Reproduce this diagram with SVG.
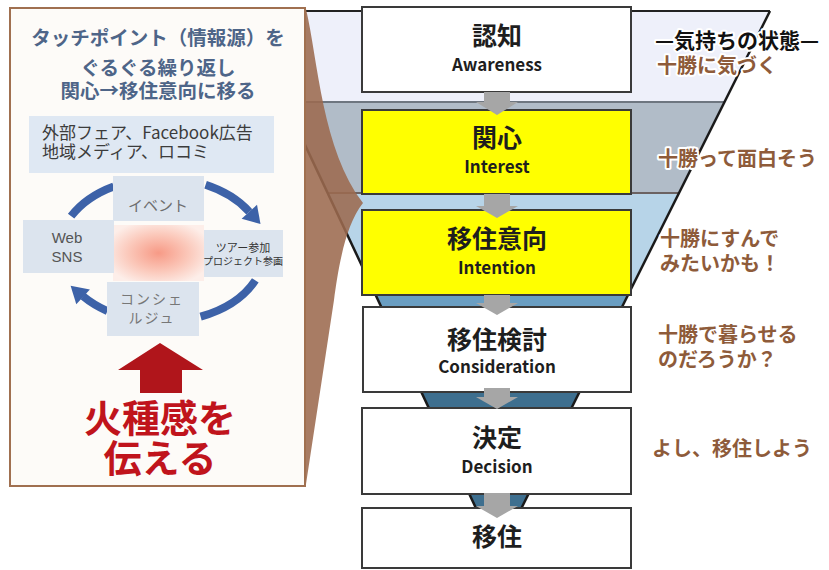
<svg xmlns="http://www.w3.org/2000/svg" width="829" height="570" viewBox="0 0 829 570">
<defs>
<style>
.jp{font-family:"Noto Sans CJK JP","Noto Sans",sans-serif}
.box{stroke:#3a3a3a;stroke-width:2}
.wbox{fill:#ffffff}
.ybox{fill:#ffff00}
.t1{font-size:25px;font-weight:bold;fill:#1e1e1e;text-anchor:middle}
.t2{font-size:17px;font-weight:bold;fill:#1e1e1e;text-anchor:middle}
.feel{font-size:20px;font-weight:bold;fill:#8e5b3a;stroke:#ffffff;stroke-width:4;stroke-linejoin:round;paint-order:stroke}
.garrow{fill:#a6a6a6}
.cyc{fill:none;stroke:#3d62a8;stroke-width:8}
.cychead{fill:#3d62a8}
.tp{fill:#dce4ee}
.title{font-size:19.5px;font-weight:bold;fill:#4e6588;text-anchor:middle}
</style>
<radialGradient id="blob" cx="0.5" cy="0.5" r="0.6">
<stop offset="0" stop-color="#f79a86"/>
<stop offset="0.55" stop-color="#fbc8ba"/>
<stop offset="1" stop-color="#fdeee9"/>
</radialGradient>
</defs>

<!-- funnel background -->
<g id="funnel">
<polygon points="242,11 770,11 724.5,102 284.8,102" fill="#eef0fa"/>
<polygon points="284.8,102 724.5,102 679,193 327.5,193" fill="#b1bcc8"/>
<polygon points="327.5,193 679,193 629,293 374.5,293" fill="#b7d4e8"/>
<polygon points="374.5,293 629,293 600.5,350 401.3,350" fill="#6a9ec2"/>
<polygon points="401.3,350 600.5,350 498,555" fill="#3e6f8f"/>
<line x1="242" y1="11" x2="770" y2="11" stroke="#222" stroke-width="2"/>
<line x1="284.8" y1="102" x2="724.5" y2="102" stroke="#6e7680" stroke-width="2"/>
<line x1="327.5" y1="193" x2="679" y2="193" stroke="#6b6262" stroke-width="2"/>
<line x1="242" y1="11" x2="498" y2="555" stroke="#1a1a1a" stroke-width="2.5"/>
<line x1="770" y1="11" x2="498" y2="555" stroke="#1a1a1a" stroke-width="2.5"/>
</g>

<!-- brown callout -->
<path id="callout" d="M306,9 C318,60 322,150 363,203 C345,225 338,270 334,300 L306,484 Z" fill="#9c6a4e" fill-opacity="0.88"/>

<!-- left panel -->
<g id="touchpoints" class="jp">
<rect x="10" y="8" width="295" height="478" fill="#fdfbf8" stroke="#a07050" stroke-width="2"/>
<text class="title" x="158" y="45">タッチポイント（情報源）を</text>
<text class="title" x="158" y="75">ぐるぐる繰り返し</text>
<text class="title" x="158" y="98">関心→移住意向に移る</text>
<rect x="29" y="116" width="245" height="57" fill="#dfe8f3"/>
<text x="42" y="139" font-size="17" fill="#3c3c3c">外部フェア、Facebook広告</text>
<text x="42" y="158" font-size="17" fill="#3c3c3c">地域メディア、ロコミ</text>

<g id="cycle">
<path class="cyc" d="M71.1,216.2 A103,72 0 0,1 113.7,186.4"/>
<path class="cyc" d="M205.6,184.8 A103,72 0 0,1 249.3,211.8"/>
<polygon class="cychead" points="260.5,224 241.6,218.8 257,204.8"/>
<path class="cyc" d="M255.3,280.4 A103,72 0 0,1 200.6,316.7"/>
<path class="cyc" d="M107.4,311.1 A103,72 0 0,1 83.1,296.3"/>
<polygon class="cychead" points="70.6,285.7 89.9,289.4 76.3,304.2"/>
<rect x="113" y="225" width="91" height="56" fill="url(#blob)"/>
<rect class="tp" x="113" y="176" width="91" height="45"/>
<text x="158" y="211" font-size="15" fill="#6e6e6e" text-anchor="middle">イベント</text>
<rect class="tp" x="23" y="220" width="91" height="53"/>
<text x="67" y="243" font-size="15" fill="#555" text-anchor="middle" font-family="'Liberation Sans',sans-serif">Web</text>
<text x="67" y="262" font-size="15" fill="#555" text-anchor="middle" font-family="'Liberation Sans',sans-serif">SNS</text>
<rect class="tp" x="204" y="230" width="79" height="47"/>
<text x="243" y="252" font-size="11" fill="#333" text-anchor="middle">ツアー参加</text>
<text x="243" y="265" font-size="10" fill="#333" text-anchor="middle">プロジェクト参画</text>
<rect class="tp" x="107" y="282" width="92" height="54"/>
<text x="152" y="304" font-size="14" fill="#777" text-anchor="middle" letter-spacing="2">コンシェ</text>
<text x="152" y="323" font-size="14" fill="#777" text-anchor="middle" letter-spacing="2">ルジュ</text>
</g>

<polygon points="160,343 203,370 182,370 182,393 140,393 140,370 118,370" fill="#b0151b"/>
<text x="160" y="432" font-size="38" font-weight="bold" fill="#c0141c" text-anchor="middle">火種感を</text>
<text x="160" y="472" font-size="38" font-weight="bold" fill="#c0141c" text-anchor="middle">伝える</text>
</g>

<!-- stage nodes -->
<g id="awareness" class="jp">
<rect class="box wbox" x="362" y="7" width="269" height="85"/>
<text class="t1" x="497" y="45">認知</text>
<text class="t2" x="497" y="71">Awareness</text>
</g>
<g id="interest" class="jp">
<rect class="box ybox" x="362" y="110" width="269" height="84"/>
<text class="t1" x="497" y="147">関心</text>
<text class="t2" x="497" y="173">Interest</text>
</g>
<g id="intention" class="jp">
<rect class="box ybox" x="362" y="210" width="269" height="85"/>
<text class="t1" x="497" y="248">移住意向</text>
<text class="t2" x="497" y="274">Intention</text>
</g>
<g id="consideration" class="jp">
<rect class="box wbox" x="363" y="307" width="268" height="85"/>
<text class="t1" x="497" y="349">移住検討</text>
<text class="t2" x="497" y="373">Consideration</text>
</g>
<g id="decision" class="jp">
<rect class="box wbox" x="362" y="408" width="269" height="86"/>
<text class="t1" x="497" y="447">決定</text>
<text class="t2" x="497" y="473">Decision</text>
</g>
<g id="migration" class="jp">
<rect class="box wbox" x="362" y="508" width="269" height="60"/>
<text class="t1" x="497" y="546">移住</text>
</g>

<!-- connectors -->
<g id="connectors">
<polygon class="garrow" points="484,92 510,92 510,102 518,102 497,115 476,102 484,102"/>
<polygon class="garrow" points="484,194 510,194 510,206 518,206 497,218 476,206 484,206"/>
<polygon class="garrow" points="484,295 510,295 510,303 518,303 497,315 476,303 484,303"/>
<polygon class="garrow" points="484,388 510,388 510,397 518,397 497,409 476,397 484,397"/>
<polygon class="garrow" points="484,493 510,493 510,506 518,506 497,518 476,506 484,506"/>
</g>

<!-- feelings -->
<g id="feelings" class="jp">
<text x="655" y="48" font-size="21" font-weight="bold" fill="#111" stroke="#fff" stroke-width="4" stroke-linejoin="round" paint-order="stroke">—気持ちの状態—</text>
<text class="feel" x="657" y="73">十勝に気づく</text>
<text class="feel" x="658" y="166">十勝って面白そう</text>
<text class="feel" x="660" y="246">十勝にすんで</text>
<text class="feel" x="660" y="271">みたいかも！</text>
<text class="feel" x="658" y="342">十勝で暮らせる</text>
<text class="feel" x="658" y="367">のだろうか？</text>
<text class="feel" x="652" y="456">よし、移住しよう</text>
</g>
</svg>
